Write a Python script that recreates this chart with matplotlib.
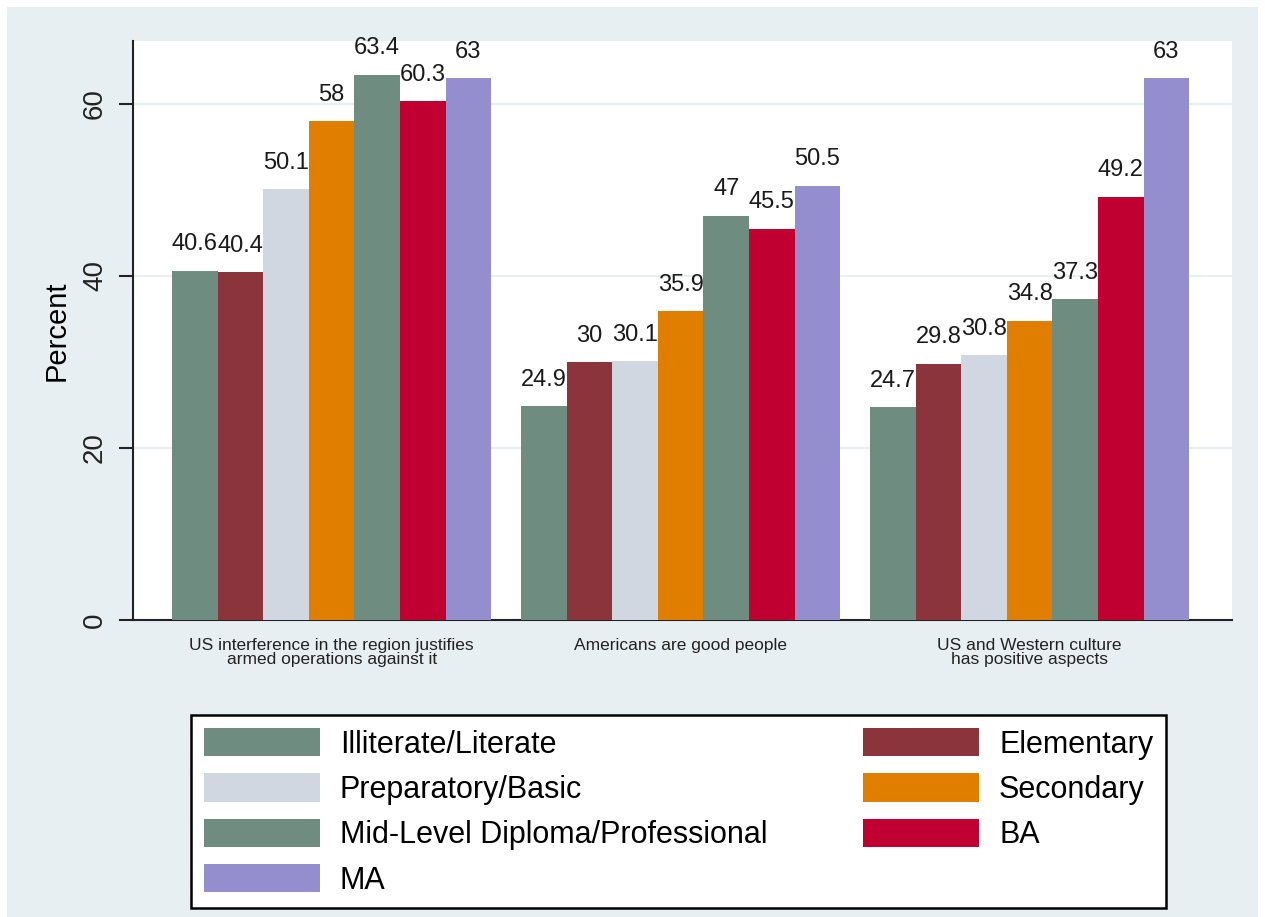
import matplotlib
matplotlib.use("Agg")
import matplotlib.pyplot as plt
from matplotlib.patches import Rectangle, Patch
import numpy as np

plt.rcParams['font.family'] = ['Liberation Sans', 'DejaVu Sans']

categories = ["US interference in the region justifies\narmed operations against it",
              "Americans are good people",
              "US and Western culture\nhas positive aspects"]
series = ["Illiterate/Literate", "Elementary", "Preparatory/Basic", "Secondary",
          "Mid-Level Diploma/Professional", "BA", "MA"]
illiterate = [40.6, 24.9, 24.7]
elementary = [40.4, 30.0, 29.8]
preparatory = [50.1, 30.1, 30.8]
secondary = [58.0, 35.9, 34.8]
midlevel = [63.4, 47.0, 37.3]
ba = [60.3, 45.5, 49.2]
ma = [63.0, 50.5, 63.0]
values = [illiterate, elementary, preparatory, secondary, midlevel, ba, ma]
colors = ["#6e8c7f", "#8b343b", "#d1d7e1", "#e07e00", "#6e8c7f", "#c10032", "#948ecf"]

W, H = 1265, 917
fig = plt.figure(figsize=(W/100, H/100), dpi=100, facecolor="white")
bg = "#e8eff2"
fig.patches.append(Rectangle((7/W, 0), (1258-7)/W, (917-7)/H, transform=fig.transFigure,
                             facecolor=bg, edgecolor="none", zorder=-10))

ax = fig.add_axes([133/W, 1-620/H, (1232-133)/W, (620-41)/H])
ax.set_facecolor("white")

bw = 1.0
group_gap = 349/45.6
start0 = 39/45.6
for j, (vals, col, name) in enumerate(zip(values, colors, series)):
    xs = [start0 + g*group_gap + j*bw + bw/2 for g in range(3)]
    ax.bar(xs, vals, width=bw, color=col, edgecolor="none", label=name, zorder=3)
    for x, v in zip(xs, vals):
        ax.annotate(f"{v:g}", (x, v), xytext=(0, 11), textcoords="offset points",
                    ha="center", va="bottom", fontsize=17, color="#1a1a1a", zorder=4)

ax.set_xlim(0, 1099/45.6)
ax.set_ylim(0, 67.3)
centers = [start0 + g*group_gap + 3.5*bw for g in range(3)]
ax.set_xticks(centers)
ax.set_xticklabels(categories, fontsize=12.5, linespacing=0.95)
ax.tick_params(axis="x", length=0, pad=13, colors="#222222")
ax.set_yticks([0, 20, 40, 60])
ax.set_yticklabels(["0", "20", "40", "60"], rotation=90, va="center", fontsize=20)
ax.tick_params(axis="y", length=10, width=1.5, pad=8, direction="out", colors="#222222")
ax.yaxis.grid(True, color="#e6eff1", linewidth=1.5, zorder=0)
ax.set_axisbelow(True)
for s in ["top", "right"]:
    ax.spines[s].set_visible(False)
ax.spines["left"].set_linewidth(1.5)
ax.spines["bottom"].set_linewidth(1.5)
ax.spines["left"].set_color("#222222")
ax.spines["bottom"].set_color("#222222")
ax.set_ylabel("Percent", fontsize=21, labelpad=8)

handles = [Patch(facecolor=c, edgecolor="none") for c in colors]
order = [0, 2, 4, 6, 1, 3, 5]
leg = fig.legend([handles[i] for i in order], [series[i] for i in order],
                 loc="upper left", bbox_to_anchor=(191/W, 1-716/H, 975/W, 0.001),
                 mode="expand", ncol=2, fontsize=22, frameon=True, fancybox=False,
                 edgecolor="black", facecolor="white", framealpha=1,
                 handlelength=3.8, handleheight=1.05,
                 handletextpad=0.65, labelspacing=0.45, borderpad=0.42,
                 borderaxespad=0, columnspacing=2.0)
leg.get_frame().set_linewidth(1.8)

fig.savefig("out.png", dpi=100, facecolor="white")
